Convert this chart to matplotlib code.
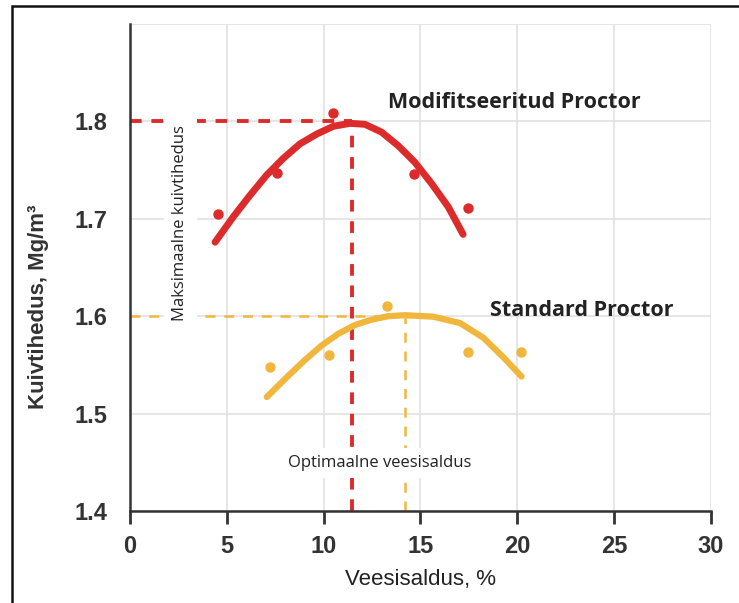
import matplotlib
matplotlib.use("Agg")
import matplotlib.pyplot as plt
from matplotlib.patches import Rectangle

# measured points
mod_x = [4.56, 7.57, 10.5, 14.68, 17.46]
mod_y = [1.705, 1.747, 1.809, 1.746, 1.711]
std_x = [7.23, 10.27, 13.28, 17.46, 20.17]
std_y = [1.548, 1.560, 1.610, 1.563, 1.563]

# fitted curves
mod_curve_x = [4.39, 5.33, 6.19, 7.06, 7.91, 8.78, 9.64, 10.5, 11.36,
               12.13, 12.99, 13.85, 14.71, 15.58, 16.44, 17.2]
mod_curve_y = [1.676, 1.702, 1.724, 1.745, 1.762, 1.777, 1.787, 1.795, 1.798,
               1.797, 1.789, 1.775, 1.758, 1.736, 1.712, 1.684]
std_curve_x = [7.06, 8.18, 9.03, 9.9, 10.76, 11.62, 12.48, 13.34, 14.2,
               15.66, 17.04, 18.24, 19.27, 20.22]
std_curve_y = [1.517, 1.539, 1.555, 1.570, 1.582, 1.591, 1.5965, 1.600, 1.601,
               1.5995, 1.593, 1.578, 1.558, 1.538]

# optimum (water content, max dry density)
mod_opt = (11.45, 1.80)
std_opt = (14.2, 1.60)

red = "#dc2b2b"
yellow = "#f1b73c"
arial = ["Liberation Sans", "DejaVu Sans"]

fig = plt.figure(figsize=(7.39, 6.03), dpi=100)
ax = fig.add_axes([0.176, 0.1526, 0.786, 0.8076])

ax.grid(True, color="#e2e2e2", linewidth=1.2, zorder=0)
ax.set_axisbelow(True)

# guide lines to the optimum
ax.plot([0, mod_opt[0]], [mod_opt[1], mod_opt[1]], color=red, lw=2.8,
        dashes=(3, 2.5), zorder=2)
ax.plot([mod_opt[0], mod_opt[0]], [1.4, mod_opt[1]], color=red, lw=2.8,
        dashes=(3, 2.5), zorder=2)
ax.plot([0, std_opt[0]], [std_opt[1], std_opt[1]], color=yellow, lw=1.8,
        dashes=(4, 3.5), zorder=2)
ax.plot([std_opt[0], std_opt[0]], [1.4, std_opt[1]], color=yellow, lw=1.8,
        dashes=(4, 3.5), zorder=2)

ax.plot(mod_curve_x, mod_curve_y, color=red, lw=5, solid_capstyle="round",
        solid_joinstyle="round", zorder=3)
ax.plot(std_curve_x, std_curve_y, color=yellow, lw=4.5, solid_capstyle="round",
        solid_joinstyle="round", zorder=3)
ax.plot(mod_x, mod_y, "o", color=red, ms=6.5, zorder=4)
ax.plot(std_x, std_y, "o", color=yellow, ms=6.5, zorder=4)

ax.text(13.3, 1.819, "Modifitseeritud Proctor", family="Open Sans",
        weight="bold", fontsize=15.5, color="#222222", ha="left", va="center", zorder=5)
ax.text(18.6, 1.606, "Standard Proctor", family="Open Sans",
        weight="bold", fontsize=15.5, color="#222222", ha="left", va="center", zorder=5)
ax.text(2.6, 1.696, "Maksimaalne kuivtihedus", family="Open Sans", fontsize=12,
        rotation=90, ha="center", va="center", color="#222222", zorder=5,
        bbox=dict(facecolor="white", edgecolor="none", pad=6))
ax.text(12.9, 1.449, "Optimaalne veesisaldus", family="Open Sans", fontsize=12,
        ha="center", va="center", color="#222222", zorder=5,
        bbox=dict(facecolor="white", edgecolor="none", pad=5))

ax.set_xlim(0, 30)
ax.set_ylim(1.4, 1.9)
ax.set_xticks([0, 5, 10, 15, 20, 25, 30])
ax.set_yticks([1.4, 1.5, 1.6, 1.7, 1.8, 1.9])
ax.set_yticklabels(["1.4", "1.5", "1.6", "1.7", "1.8", ""])

for side in ["top", "right"]:
    ax.spines[side].set_visible(False)
for side in ["left", "bottom"]:
    ax.spines[side].set_color("#333333")
    ax.spines[side].set_linewidth(1.8)

ax.tick_params(axis="x", direction="out", length=9, width=2, color="#333333", pad=8)
ax.tick_params(axis="y", length=0, pad=16)
for lab in ax.get_xticklabels() + ax.get_yticklabels():
    lab.set_family(arial)
    lab.set_fontsize(17)
    lab.set_fontweight("bold")
    lab.set_color("#333333")

ax.set_xlabel("Veesisaldus, %", family=arial, fontsize=16, color="#222222", labelpad=8)
ax.set_ylabel("Kuivtihedus, Mg/m³", family=arial, fontsize=16, weight="bold",
              color="#333333")
ax.yaxis.set_label_coords(-0.14, 0.42)

# frame around the figure
fig.patches.append(Rectangle((12 / 739, -0.1), 1.2, 1.09, transform=fig.transFigure,
                             fill=False, edgecolor="#111111", linewidth=1.8))

fig.savefig("out.png", dpi=100)
